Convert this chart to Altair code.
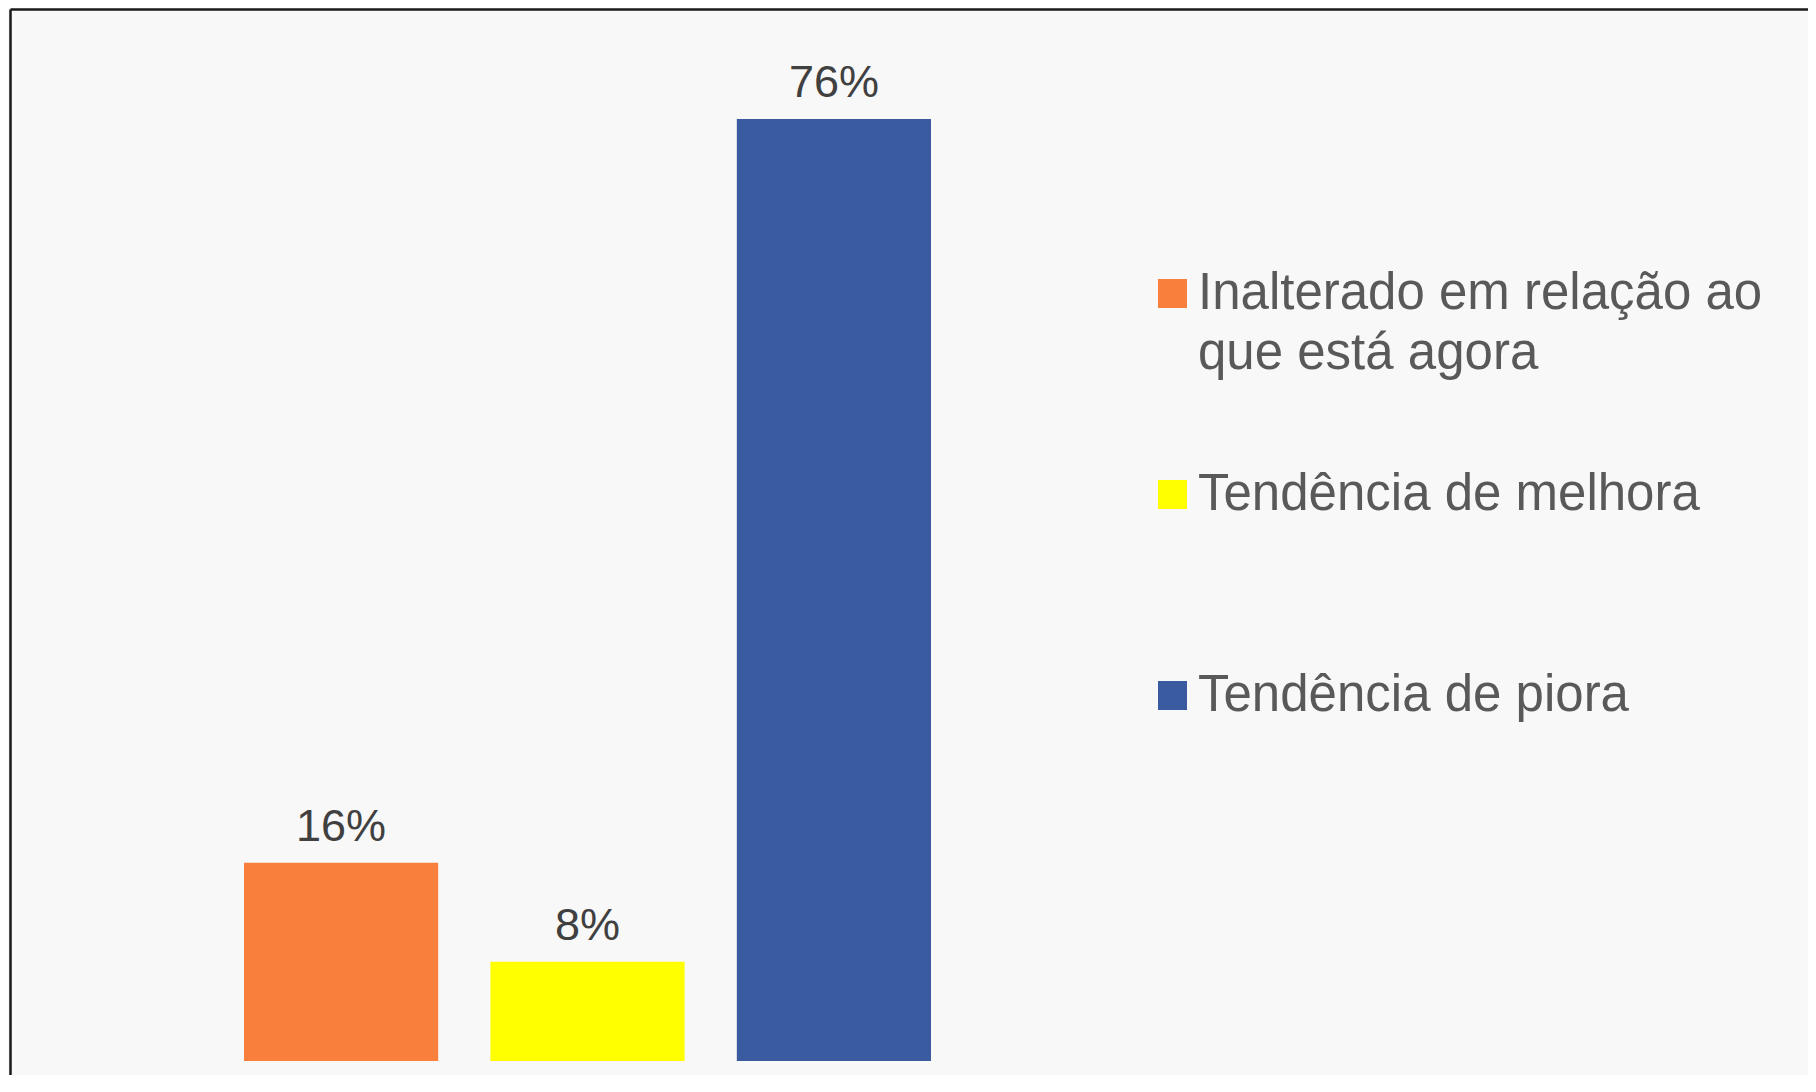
import altair as alt
import pandas as pd

categorias = ["Inalterado em relação ao que está agora", "Tendência de melhora", "Tendência de piora"]
valores = [0.16, 0.08, 0.76]
cores = ["#F8803C", "#FFFF00", "#3A5BA0"]

df = pd.DataFrame({"Categoria": categorias, "Valor": valores})

W = 1798
H = 1066

x = alt.X(
    "Categoria:N",
    sort=categorias,
    scale=alt.Scale(type="band", paddingInner=0.212, paddingOuter=0, range=[234, 921]),
    axis=None,
)
y = alt.Y(
    "Valor:Q",
    scale=alt.Scale(domain=[-0.0113, 0.8487], zero=False, nice=False),
    axis=alt.Axis(labels=False, ticks=False, title=None, grid=False,
                  domainColor="#1a1a1a", domainWidth=2.5),
)

label_expr = (
    "datum.label == 'Inalterado em relação ao que está agora' ? "
    "['Inalterado em relação ao', 'que está agora'] : datum.label"
)

color = alt.Color(
    "Categoria:N",
    scale=alt.Scale(domain=categorias, range=cores),
    legend=alt.Legend(
        orient="none", legendX=1137, legendY=259, title=None,
        symbolType="square", symbolSize=840, symbolStrokeWidth=0, symbolOpacity=1,
        labelFont="Liberation Sans", labelFontSize=51, labelColor="#595959",
        labelLimit=1000, labelOffset=0, rowPadding=89, padding=0,
        gridAlign="all", labelExpr=label_expr,
    ),
)

bars = alt.Chart(df).mark_bar().encode(x=x, y=y, color=color)
texts = alt.Chart(df).mark_text(
    dy=-22, baseline="alphabetic", align="center", fontSize=45,
    font="Liberation Sans", color="#404040"
).encode(x=x, y=y, text=alt.Text("Valor:Q", format=".0%"))

data_layer = alt.layer(bars, texts)

# invisible layer that carries the top frame line (axis domain across the full width)
frame = alt.Chart(df).mark_point(opacity=0).encode(
    x=alt.X("Valor:Q", scale=alt.Scale(domain=[0, 1], nice=False),
            axis=alt.Axis(orient="top", labels=False, ticks=False, title=None, grid=False,
                          domainColor="#1a1a1a", domainWidth=2.5)),
    y=y,
)

chart = (
    alt.layer(data_layer, frame)
    .resolve_scale(x="independent")
    .properties(width=W, height=H, padding={"left": 2, "top": 1, "right": 0, "bottom": 0},
                autosize=alt.AutoSizeParams(type="none"))
    .configure(background="#f8f8f8", style={"guide-label": {"lineHeight": 60}})
    .configure_view(stroke=None)
)

chart.save("out.html", embed_options={"renderer": "svg", "actions": False})
